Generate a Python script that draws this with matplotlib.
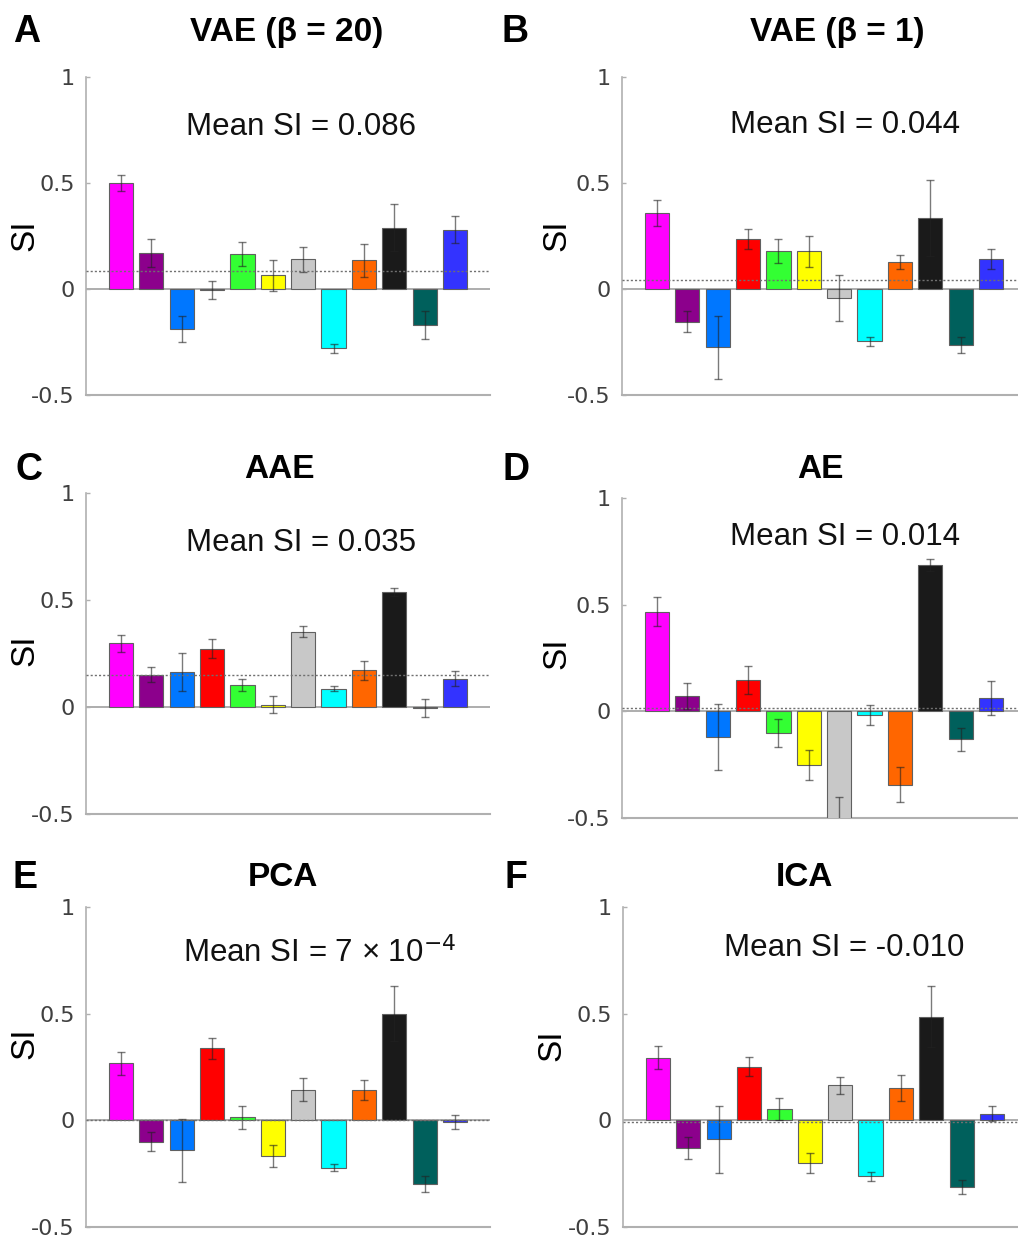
import matplotlib
matplotlib.use("Agg")
import matplotlib.pyplot as plt
import numpy as np

# ---------------- data ----------------
bar_colors = ["#FF00FF", "#8C008C", "#0077FF", "#FF0000", "#33FF33", "#FFFF00",
              "#C8C8C8", "#00FFFF", "#FF6600", "#1A1A1A", "#00605C", "#3333FF"]

vae20_vals = [0.50, 0.17, -0.19, -0.004, 0.165, 0.064, 0.14, -0.28, 0.135, 0.29, -0.172, 0.28]
vae20_errs = [0.04, 0.065, 0.061, 0.043, 0.055, 0.072, 0.058, 0.02, 0.077, 0.11, 0.066, 0.062]

vae1_vals = [0.358, -0.155, -0.275, 0.237, 0.18, 0.178, -0.042, -0.247, 0.128, 0.334, -0.264, 0.142]
vae1_errs = [0.06, 0.05, 0.148, 0.046, 0.055, 0.074, 0.107, 0.021, 0.032, 0.18, 0.037, 0.047]

aae_vals = [0.297, 0.151, 0.164, 0.272, 0.104, 0.011, 0.352, 0.086, 0.171, 0.537, -0.005, 0.132]
aae_errs = [0.038, 0.035, 0.087, 0.045, 0.027, 0.039, 0.027, 0.012, 0.044, 0.018, 0.043, 0.036]

ae_vals = [0.467, 0.072, -0.119, 0.147, -0.102, -0.253, -0.52, -0.017, -0.344, 0.687, -0.131, 0.062]
ae_errs = [0.069, 0.06, 0.154, 0.065, 0.067, 0.071, 0.117, 0.045, 0.083, 0.029, 0.055, 0.078]

pca_vals = [0.267, -0.101, -0.14, 0.337, 0.014, -0.169, 0.143, -0.222, 0.144, 0.5, -0.3, -0.008]
pca_errs = [0.053, 0.045, 0.148, 0.048, 0.053, 0.052, 0.054, 0.017, 0.047, 0.129, 0.037, 0.031]

ica_vals = [0.294, -0.128, -0.089, 0.251, 0.053, -0.2, 0.164, -0.263, 0.15, 0.486, -0.312, 0.031]
ica_errs = [0.054, 0.052, 0.156, 0.045, 0.051, 0.045, 0.04, 0.023, 0.061, 0.142, 0.034, 0.036]

panel_letters = ["A", "B", "C", "D", "E", "F"]
panel_titles = ["VAE (β = 20)", "VAE (β = 1)", "AAE", "AE", "PCA", "ICA"]
mean_texts = ["Mean SI = 0.086", "Mean SI = 0.044", "Mean SI = 0.035",
              "Mean SI = 0.014", "Mean SI = 7 × 10$^{-4}$", "Mean SI = -0.010"]
mean_lines = [0.086, 0.044, 0.15, 0.014, 0.0007, -0.010]

ytick_vals = [-0.5, 0, 0.5, 1]
ytick_labels = ["-0.5", "0", "0.5", "1"]

all_vals = [vae20_vals, vae1_vals, aae_vals, ae_vals, pca_vals, ica_vals]
all_errs = [vae20_errs, vae1_errs, aae_errs, ae_errs, pca_errs, ica_errs]

# ---------------- layout (pixel based) ----------------
W, H = 1018, 1237
fig = plt.figure(figsize=(W / 100, H / 100), dpi=100)

# axes boxes: (left px, top px, right px, bottom px)
boxes = [(86, 77, 490, 395), (622, 77, 1026, 395),
         (86, 493, 490, 814), (622, 498, 1026, 818),
         (86, 907, 490, 1227), (623, 907, 1027, 1227)]
letter_pos = [(27, 32), (515, 32), (29, 470), (516, 470), (25, 878), (516, 878)]
title_pos = [(287, 32), (837, 32), (279, 470), (820, 470), (283, 878), (804, 878)]
ylabel_pos = [(25, 235), (557, 235), (25, 650), (557, 653), (25, 1043), (552, 1045)]
mean_pos = [(301, 127), (845, 125), (301, 543), (845, 537), (320, 953), (844, 948)]


def fx(px):
    return px / W


def fy(py):
    return 1 - py / H


x = np.arange(1, 13)
spine_col = "#B0B0B0"

for i in range(6):
    l, t, r, b = boxes[i]
    ax = fig.add_axes([fx(l), fy(b), (r - l) / W, (b - t) / H])
    ax.set_facecolor("none")
    ax.bar(x, all_vals[i], width=0.8, color=bar_colors, edgecolor="#606060",
           linewidth=0.8, zorder=2)
    ax.errorbar(x, all_vals[i], yerr=all_errs[i], fmt="none", ecolor="#222222",
                elinewidth=1.0, capsize=3, capthick=1.0, alpha=0.6, zorder=3)
    ax.axhline(0, color="#A0A0A0", linewidth=1.2, zorder=1.5)
    ax.axhline(mean_lines[i], color="#707070", linewidth=1.0, linestyle=(0, (1.5, 1.5)),
               zorder=4)
    ax.set_xlim(-0.15, 13.15)
    ax.set_ylim(-0.5, 1)
    for s in ["top", "right"]:
        ax.spines[s].set_visible(False)
    ax.spines["left"].set_color(spine_col)
    ax.spines["bottom"].set_color(spine_col)
    ax.spines["left"].set_linewidth(1.2)
    ax.spines["bottom"].set_linewidth(1.5)
    ax.spines["bottom"].set_zorder(0.5)
    ax.set_xticks([])
    ax.set_yticks(ytick_vals)
    ax.set_yticklabels(ytick_labels)
    ax.tick_params(axis="y", direction="in", length=3, width=1, color=spine_col,
                   labelsize=16, labelcolor="#404040", pad=8)

    fig.text(fx(letter_pos[i][0]), fy(letter_pos[i][1]), panel_letters[i],
             fontsize=27, fontweight="bold", family="Liberation Sans",
             ha="center", va="center")
    fig.text(fx(title_pos[i][0]), fy(title_pos[i][1]), panel_titles[i],
             fontsize=24, fontweight="bold", family="Liberation Sans",
             ha="center", va="center")
    fig.text(fx(ylabel_pos[i][0]), fy(ylabel_pos[i][1]), "SI",
             fontsize=24, family="Liberation Sans", rotation=90,
             ha="center", va="center")
    fig.text(fx(mean_pos[i][0]), fy(mean_pos[i][1]), mean_texts[i],
             fontsize=22.5, family="Liberation Sans", ha="center", va="center",
             color="#111111")

fig.savefig("out.png", dpi=100)
